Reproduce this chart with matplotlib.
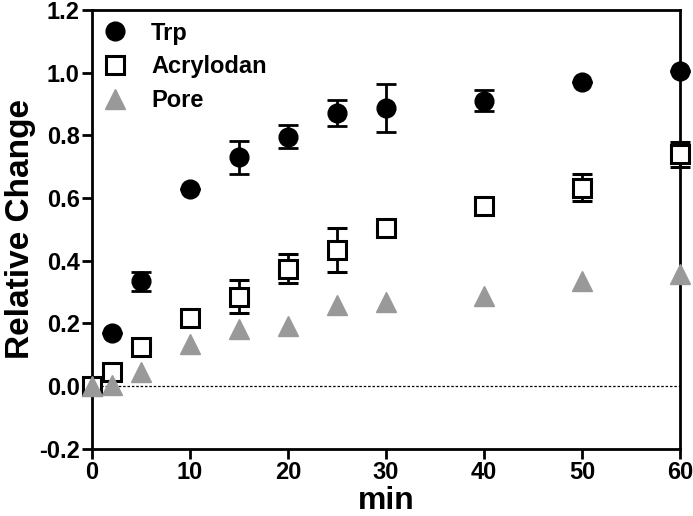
import matplotlib
matplotlib.use("Agg")
import matplotlib.pyplot as plt
from matplotlib.lines import Line2D
import numpy as np

plt.rcParams['font.family'] = ['Liberation Sans', 'DejaVu Sans']
plt.rcParams['font.weight'] = 'bold'

# time points (min)
minutes = [0, 2, 5, 10, 15, 20, 25, 30, 40, 50, 60]

# relative change
trp = [0.0, 0.17, 0.334, 0.63, 0.73, 0.796, 0.870, 0.886, 0.910, 0.970, 1.004]
trp_err = [0, 0, 0.030, 0, 0.053, 0.037, 0.042, 0.077, 0.033, 0, 0]

acrylodan = [0.0, 0.044, 0.126, 0.218, 0.285, 0.375, 0.435, 0.503, 0.576, 0.633, 0.740]
acrylodan_err = [0, 0, 0, 0, 0.053, 0.046, 0.070, 0, 0.02, 0.043, 0.040]

pore = [0.0, 0.003, 0.046, 0.134, 0.182, 0.193, 0.260, 0.268, 0.287, 0.334, 0.359]

series_labels = ['Trp', 'Acrylodan', 'Pore']
gray = '#999999'

fig = plt.figure(figsize=(6.93, 5.16), dpi=100)
ax = fig.add_axes([0.133, 0.130, 0.848, 0.851])

ax.axhline(0, color='black', lw=0.9, ls=(0, (2, 1.5)), zorder=1)

common = dict(ls='none', capsize=7, elinewidth=2, capthick=2, ecolor='black', clip_on=False)
ax.errorbar(minutes, trp, yerr=trp_err, fmt='o', ms=13.5, mfc='black', mec='black',
            zorder=4, **common)
ax.errorbar(minutes, acrylodan, yerr=acrylodan_err, fmt='s', ms=12.5, mfc='white', mec='black',
            mew=2.2, zorder=5, **common)
ax.plot(minutes, pore, ls='none', marker='^', ms=14, mfc=gray, mec=gray,
        zorder=6, clip_on=False)

ax.set_xlim(0, 60)
ax.set_ylim(-0.2, 1.2)
ax.set_xticks([0, 10, 20, 30, 40, 50, 60])
ax.set_yticks(np.arange(-0.2, 1.21, 0.2))
ax.set_yticklabels(['-0.2', '0.0', '0.2', '0.4', '0.6', '0.8', '1.0', '1.2'])

for s in ax.spines.values():
    s.set_linewidth(2)
ax.tick_params(direction='out', length=7, width=2, labelsize=17, pad=2)
for lab in ax.get_xticklabels() + ax.get_yticklabels():
    lab.set_fontweight('bold')

ax.set_xlabel('min', fontsize=23, fontweight='bold', labelpad=1)
ax.set_ylabel('Relative Change', fontsize=24, fontweight='bold', labelpad=2)

# legend handles without the error bars
handles = [
    Line2D([], [], ls='none', marker='o', ms=13.5, mfc='black', mec='black'),
    Line2D([], [], ls='none', marker='s', ms=12.5, mfc='white', mec='black', mew=2.2),
    Line2D([], [], ls='none', marker='^', ms=14, mfc=gray, mec=gray),
]
ax.legend(handles, series_labels, loc='upper left', frameon=False,
          handlelength=0.9, handletextpad=1.1, labelspacing=0.45,
          borderaxespad=0.1, prop={'weight': 'bold', 'size': 17})

fig.savefig('out.png', dpi=100)
